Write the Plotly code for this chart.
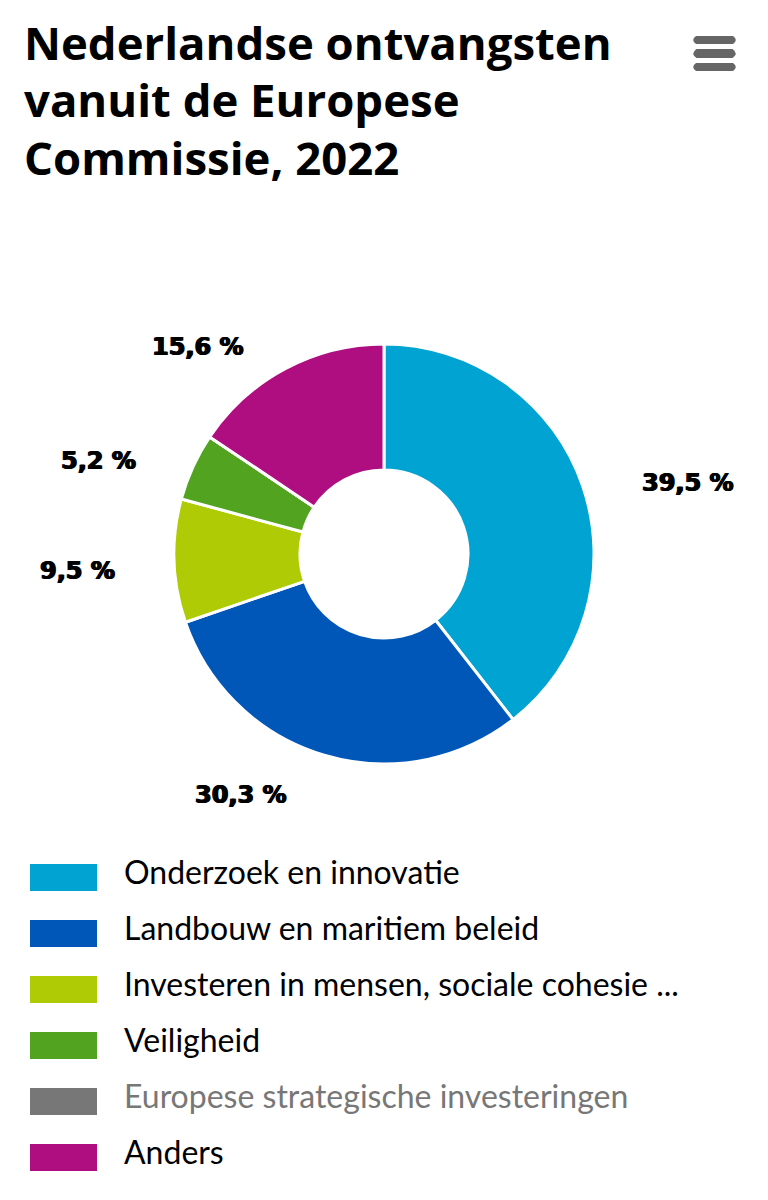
import plotly.graph_objects as go

labels = ['Onderzoek en innovatie', 'Landbouw en maritiem beleid', 'Investeren in mensen, sociale cohesie ...',
          'Veiligheid', 'Europese strategische investeringen', 'Anders']
values = [39.5, 30.3, 9.5, 5.2, 0, 15.6]
colors = ['#00A3D1', '#0057B8', '#AFCB05', '#52A420', '#777777', '#AF0E80']
text_colors = ['#000000', '#000000', '#000000', '#000000', '#777777', '#000000']
title_lines = ['Nederlandse ontvangsten', 'vanuit de Europese', 'Commissie, 2022']

# the page body has an 8px margin, so the figure is 16px smaller than the window
W, H = 752, 1184
FONT = 'Lato'


def px(x):
    return (x - 8) / W


def py(y):
    return 1 - (y - 8) / H


def rounded_bar(x0, x1, y0, y1):
    r = (y1 - y0) / 2
    return dict(type='path', xref='paper', yref='paper', fillcolor='#666666', line_width=0,
                path=f'M {px(x0 + r)} {py(y0)} L {px(x1 - r)} {py(y0)} Q {px(x1 + r * 0.4)} {py(y0 + r)} {px(x1 - r)} {py(y1)} '
                     f'L {px(x0 + r)} {py(y1)} Q {px(x0 - r * 0.4)} {py(y0 + r)} {px(x0 + r)} {py(y0)} Z')


pie = go.Pie(labels=labels, values=values, hole=0.4, sort=False, direction='clockwise', rotation=0,
             marker=dict(colors=colors, line=dict(color='#ffffff', width=3)),
             textinfo='none', showlegend=False, hoverinfo='label+percent',
             domain=dict(x=[px(174), px(594)], y=[py(764), py(344)]))

fig = go.Figure(pie)

annotations = []
for i, line in enumerate(title_lines):
    annotations.append(dict(text=line, x=px(22), y=py(42 + 57.5 * i), xref='paper', yref='paper', xanchor='left',
                            yanchor='middle', showarrow=False,
                            font=dict(family='Open Sans', size=45.5, color='#000000', weight=700)))

# value labels sit well outside the ring
label_pos = [(688, 483), (241, 795), (77, 571), (98, 461), None, (198, 347)]
for val, pos in zip(values, label_pos):
    if pos is None:
        continue
    annotations.append(dict(text=f'{val:.1f} %'.replace('.', ','), x=px(pos[0]), y=py(pos[1]), xref='paper', yref='paper',
                            xanchor='center', yanchor='middle', showarrow=False,
                            font=dict(family='DejaVu Sans', size=24, color='#000000', weight=700,
                                      shadow='0.8px 0 0 #000, -0.8px 0 0 #000')))

shapes = [rounded_bar(692, 737, 36, 44), rounded_bar(692, 737, 49, 58), rounded_bar(692, 737, 63, 71)]
for i, (lab, col, tcol) in enumerate(zip(labels, colors, text_colors)):
    top = 864 + 56 * i
    shapes.append(dict(type='rect', xref='paper', yref='paper', x0=px(30), x1=px(97), y0=py(top), y1=py(top + 27),
                       fillcolor=col, line_width=0))
    annotations.append(dict(text=lab, x=px(122), y=py(871 + 56 * i), xref='paper', yref='paper', xanchor='left',
                            yanchor='middle', showarrow=False, font=dict(family=FONT, size=32, color=tcol)))

fig.update_layout(width=W, height=H, margin=dict(l=0, r=0, t=0, b=0), paper_bgcolor='#ffffff',
                  annotations=annotations, shapes=shapes)
fig.write_html("out.html")
